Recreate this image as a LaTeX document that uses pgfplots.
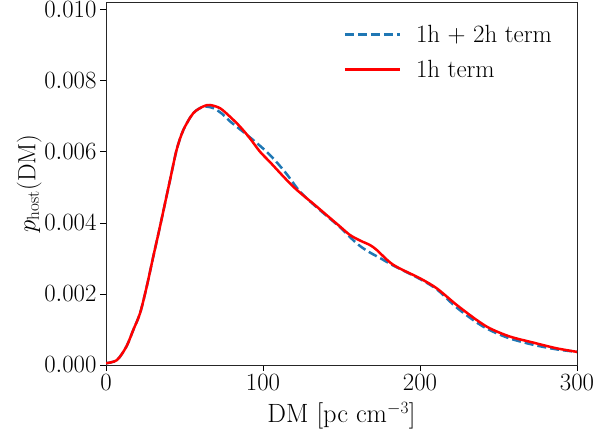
\documentclass[border=0pt]{standalone}
\usepackage{pgfplots}
\pgfplotsset{compat=1.18}
\definecolor{mplblue}{HTML}{1F77B4}
\begin{document}
\begin{tikzpicture}
\begin{axis}[
  at={(106bp,77bp)}, anchor=south west,
  scale only axis, width=471bp, height=363bp,
  xmin=0, xmax=300, ymin=0, ymax=0.01022,
  xtick={0,100,200,300},
  ytick={0,0.002,0.004,0.006,0.008,0.010},
  scaled y ticks=false,
  yticklabel style={/pgf/number format/fixed, /pgf/number format/fixed zerofill, /pgf/number format/precision=3},
  tick align=outside, tick pos=left,
  major tick length=6bp,
  every tick/.style={black, line width=0.8bp},
  axis line style={line width=0.8bp, black!85},
  tick label style={font=\fontsize{25}{30}\selectfont},
  label style={font=\fontsize{26.5}{31}\selectfont},
  xlabel style={yshift=-5bp},
  ylabel style={yshift=-4bp},
  xlabel={DM [pc cm$^{-3}$]},
  ylabel={$p_{\rm host}({\rm DM})$},
  legend style={draw=none, fill=none, at={(1,1)}, anchor=north east, xshift=-20bp, yshift=-19bp, font=\fontsize{25}{30}\selectfont, row sep=12bp},
  legend cell align=left,
  legend image code/.code={\draw[#1] (0bp,0bp) -- (55bp,0bp); \path (68bp,0bp);},
]
\addplot[mplblue, line width=2.5bp, dash pattern=on 9bp off 4bp, smooth] coordinates {
(0,0.00005)(7,0.00014)(13,0.00052)(17.4,0.00099)(21.7,0.00146)(25.9,0.0022)(30.1,0.00305)(34.4,0.0039)(40.8,0.00521)(45,0.00606)(49.3,0.00662)(55.6,0.00709)(62,0.00727)(68.4,0.00723)(74,0.00707)(79,0.00686)(87.5,0.00656)(96,0.00625)(102.4,0.00600)(108.7,0.00571)(115,0.00538)(123.6,0.00488)(134.2,0.00444)(149,0.00388)(155.4,0.00360)(161.8,0.00335)(168,0.00317)(175,0.00300)(183,0.00280)(200,0.00242)(211,0.00212)(223,0.00163)(236,0.00120)(245,0.00097)(257,0.00075)(272,0.00057)(287,0.00044)(300,0.00037)
};
\addlegendentry{1h + 2h term}
\addplot[red, line width=2.5bp, smooth] coordinates {
(0,0.00005)(7,0.00014)(13,0.00052)(17.4,0.00099)(21.7,0.00146)(25.9,0.0022)(30.1,0.00305)(34.4,0.0039)(40.8,0.00521)(45,0.00606)(49.3,0.00662)(55.6,0.00709)(62,0.00728)(66.2,0.00732)(72.6,0.00723)(79,0.00699)(85.4,0.00671)(91.7,0.00638)(98,0.00601)(104.5,0.00571)(119.3,0.00502)(134.2,0.00446)(149,0.0039)(155.4,0.00366)(162,0.00350)(168,0.00338)(172.4,0.00324)(183,0.00282)(200,0.00244)(210.6,0.00216)(223.4,0.00169)(236,0.00127)(244.6,0.00103)(257.3,0.00080)(272.2,0.00063)(287,0.00047)(300,0.00037)
};
\addlegendentry{1h term}
\end{axis}
\pgfresetboundingbox
\path[use as bounding box] (0,0) rectangle (596bp,442bp);
\end{tikzpicture}
\end{document}
